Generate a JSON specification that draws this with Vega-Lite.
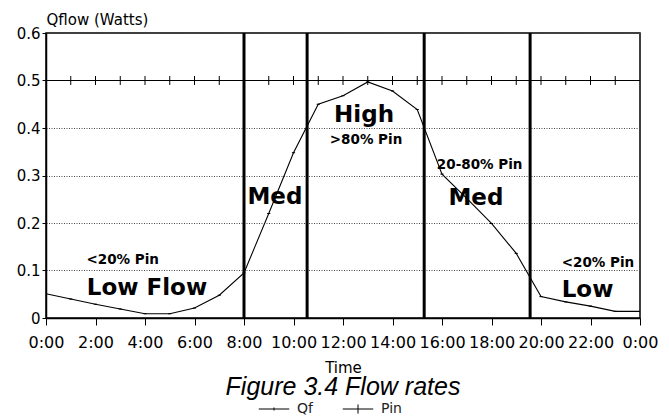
{
  "$schema": "https://vega.github.io/schema/vega-lite/v6.json",
  "width": 594,
  "height": 285,
  "autosize": "none",
  "padding": {"left": 46, "top": 33, "right": 29, "bottom": 98},
  "background": "white",
  "title": {
    "text": "Figure 3.4 Flow rates",
    "orient": "bottom",
    "anchor": "middle",
    "font": "Liberation Sans",
    "fontStyle": "italic",
    "fontWeight": "normal",
    "fontSize": 25,
    "color": "black",
    "offset": -5,
    "dy": -36
  },
  "config": {
    "view": {"stroke": "black", "strokeWidth": 1.5},
    "axis": {"labelColor": "black", "tickColor": "black", "domainColor": "black", "titleColor": "black"}
  },
  "datasets": {
    "flow": [
      {"hour": 0, "series": "Qf", "value": 0.051},
      {"hour": 1, "series": "Qf", "value": 0.040},
      {"hour": 2, "series": "Qf", "value": 0.029},
      {"hour": 3, "series": "Qf", "value": 0.019},
      {"hour": 4, "series": "Qf", "value": 0.009},
      {"hour": 5, "series": "Qf", "value": 0.009},
      {"hour": 6, "series": "Qf", "value": 0.021},
      {"hour": 7, "series": "Qf", "value": 0.048},
      {"hour": 8, "series": "Qf", "value": 0.095},
      {"hour": 9, "series": "Qf", "value": 0.22},
      {"hour": 10, "series": "Qf", "value": 0.348},
      {"hour": 11, "series": "Qf", "value": 0.450},
      {"hour": 12, "series": "Qf", "value": 0.468},
      {"hour": 13, "series": "Qf", "value": 0.497},
      {"hour": 14, "series": "Qf", "value": 0.478},
      {"hour": 15, "series": "Qf", "value": 0.439},
      {"hour": 16, "series": "Qf", "value": 0.303},
      {"hour": 17, "series": "Qf", "value": 0.252},
      {"hour": 18, "series": "Qf", "value": 0.199},
      {"hour": 19, "series": "Qf", "value": 0.136},
      {"hour": 20, "series": "Qf", "value": 0.045},
      {"hour": 21, "series": "Qf", "value": 0.034},
      {"hour": 22, "series": "Qf", "value": 0.025},
      {"hour": 23, "series": "Qf", "value": 0.014},
      {"hour": 24, "series": "Qf", "value": 0.014},
      {"hour": 0, "series": "Pin", "value": 0.5},
      {"hour": 1, "series": "Pin", "value": 0.5},
      {"hour": 2, "series": "Pin", "value": 0.5},
      {"hour": 3, "series": "Pin", "value": 0.5},
      {"hour": 4, "series": "Pin", "value": 0.5},
      {"hour": 5, "series": "Pin", "value": 0.5},
      {"hour": 6, "series": "Pin", "value": 0.5},
      {"hour": 7, "series": "Pin", "value": 0.5},
      {"hour": 8, "series": "Pin", "value": 0.5},
      {"hour": 9, "series": "Pin", "value": 0.5},
      {"hour": 10, "series": "Pin", "value": 0.5},
      {"hour": 11, "series": "Pin", "value": 0.5},
      {"hour": 12, "series": "Pin", "value": 0.5},
      {"hour": 13, "series": "Pin", "value": 0.5},
      {"hour": 14, "series": "Pin", "value": 0.5},
      {"hour": 15, "series": "Pin", "value": 0.5},
      {"hour": 16, "series": "Pin", "value": 0.5},
      {"hour": 17, "series": "Pin", "value": 0.5},
      {"hour": 18, "series": "Pin", "value": 0.5},
      {"hour": 19, "series": "Pin", "value": 0.5},
      {"hour": 20, "series": "Pin", "value": 0.5},
      {"hour": 21, "series": "Pin", "value": 0.5},
      {"hour": 22, "series": "Pin", "value": 0.5},
      {"hour": 23, "series": "Pin", "value": 0.5},
      {"hour": 24, "series": "Pin", "value": 0.5}
    ],
    "bounds": [
      {"hour": 8.0},
      {"hour": 10.55},
      {"hour": 15.28},
      {"hour": 19.56}
    ],
    "bigLabels": [
      {"hour": 4.08, "value": 0.048, "label": "Low Flow"},
      {"hour": 9.25, "value": 0.241, "label": "Med"},
      {"hour": 12.85, "value": 0.412, "label": "High"},
      {"hour": 17.37, "value": 0.237, "label": "Med"},
      {"hour": 21.88, "value": 0.045, "label": "Low"}
    ],
    "smallLabels": [
      {"hour": 3.1, "value": 0.113, "label": "<20% Pin"},
      {"hour": 12.93, "value": 0.367, "label": ">80% Pin"},
      {"hour": 17.52, "value": 0.313, "label": "20-80% Pin"},
      {"hour": 22.3, "value": 0.107, "label": "<20% Pin"}
    ]
  },
  "layer": [
    {
      "data": {"name": "flow"},
      "mark": {"type": "line", "color": "black", "strokeWidth": 1.1},
      "encoding": {
        "x": {
          "field": "hour",
          "type": "quantitative",
          "scale": {"domain": [0, 24], "nice": false, "zero": false},
          "axis": {
            "values": [0,1,2,3,4,5,6,7,8,9,10,11,12,13,14,15,16,17,18,19,20,21,22,23,24],
            "labelExpr": "datum.value % 2 == 0 ? (datum.value == 24 ? '0:00' : datum.value + ':00') : ''",
            "labelFont": "DejaVu Sans",
            "labelFontSize": 16,
            "labelOverlap": false,
            "labelFlush": false,
            "labelDx": 2,
            "labelPadding": 9,
            "tickSize": 7,
            "tickWidth": 1,
            "domainWidth": 1.5,
            "grid": false,
            "title": "Time",
            "titleFont": "DejaVu Sans",
            "titleFontWeight": "normal",
            "titleFontSize": 15,
            "titlePadding": 10
          }
        },
        "y": {
          "field": "value",
          "type": "quantitative",
          "scale": {"domain": [0, 0.6], "nice": false},
          "axis": {
            "values": [0, 0.1, 0.2, 0.3, 0.4, 0.5, 0.6],
            "labelExpr": "datum.value == 0 ? '0' : format(datum.value, '.1f')",
            "labelFont": "DejaVu Sans",
            "labelFontSize": 15,
            "labelPadding": 2,
            "tickSize": 4,
            "domainWidth": 1.5,
            "grid": true,
            "gridColor": "#444",
            "gridDash": [1, 1.5],
            "gridWidth": 1,
            "title": "Qflow (Watts)",
            "titleFont": "DejaVu Sans",
            "titleFontWeight": "normal",
            "titleFontSize": 15,
            "titleAngle": 0,
            "titleAlign": "left",
            "titleBaseline": "alphabetic",
            "titleX": 0,
            "titleY": -9
          }
        },
        "detail": {"field": "series", "type": "nominal"}
      }
    },
    {
      "data": {"name": "flow"},
      "transform": [{"filter": "datum.series == 'Qf' && datum.hour > 0 && datum.hour < 24"}],
      "mark": {"type": "point", "filled": false, "color": "black", "strokeWidth": 1, "opacity": 1, "size": 10},
      "encoding": {
        "x": {"field": "hour", "type": "quantitative"},
        "y": {"field": "value", "type": "quantitative"},
        "shape": {
          "field": "series",
          "type": "nominal",
          "scale": {
            "domain": ["Qf", "Pin"],
            "range": ["M-1,0L1,0M0,-0.1L0,0.1", "M-1,0L1,0M0,-0.3L0,0.3"]
          },
          "legend": {
            "orient": "none",
            "legendX": 212,
            "legendY": 360,
            "direction": "horizontal",
            "title": null,
            "padding": 0,
            "symbolSize": 930,
            "symbolStrokeWidth": 1,
            "symbolStrokeColor": "black",
            "symbolFillColor": "transparent",
            "symbolOpacity": 1,
            "labelFont": "DejaVu Sans",
            "labelFontSize": 14,
            "labelColor": "#222",
            "labelOffset": 7,
            "columnPadding": 27
          }
        }
      }
    },
    {
      "data": {"name": "flow"},
      "transform": [{"filter": "datum.series == 'Pin' && datum.hour > 0 && datum.hour < 24"}],
      "mark": {"type": "point", "filled": false, "color": "black", "strokeWidth": 1, "opacity": 1, "size": 900},
      "encoding": {
        "x": {"field": "hour", "type": "quantitative"},
        "y": {"field": "value", "type": "quantitative"},
        "shape": {"field": "series", "type": "nominal"}
      }
    },
    {
      "data": {"name": "bounds"},
      "mark": {"type": "rule", "color": "black", "strokeWidth": 3},
      "encoding": {
        "x": {"field": "hour", "type": "quantitative"}
      }
    },
    {
      "data": {"name": "bigLabels"},
      "mark": {"type": "text", "font": "DejaVu Sans", "fontWeight": "bold", "fontSize": 23, "align": "center", "baseline": "alphabetic", "color": "black"},
      "encoding": {
        "x": {"field": "hour", "type": "quantitative"},
        "y": {"field": "value", "type": "quantitative"},
        "text": {"field": "label"}
      }
    },
    {
      "data": {"name": "smallLabels"},
      "mark": {"type": "text", "font": "DejaVu Sans", "fontWeight": "bold", "fontSize": 13.5, "align": "center", "baseline": "alphabetic", "color": "black"},
      "encoding": {
        "x": {"field": "hour", "type": "quantitative"},
        "y": {"field": "value", "type": "quantitative"},
        "text": {"field": "label"}
      }
    }
  ]
}
